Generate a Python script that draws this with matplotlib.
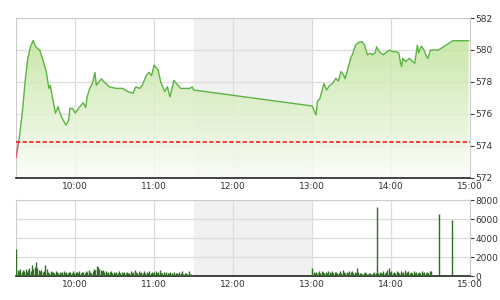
import numpy as np
import matplotlib
matplotlib.use("Agg")
from matplotlib import pyplot as plt
from matplotlib.colors import LinearSegmentedColormap

# price line
price_times = ["9:15", "9:17", "9:18", "9:20", "9:22", "9:24", "9:26", "9:28", "9:30", "9:33",
               "9:35", "9:38", "9:40", "9:41", "9:43", "9:45", "9:47", "9:48", "9:50", "9:53",
               "9:55", "9:56", "9:58", "10:00", "10:03", "10:06", "10:08", "10:09", "10:11", "10:13",
               "10:15", "10:16", "10:20", "10:22", "10:26", "10:31", "10:36", "10:40", "10:44", "10:46",
               "10:49", "10:51", "10:54", "10:56", "10:58", "11:00", "11:03", "11:05", "11:08", "11:10",
               "11:12", "11:15", "11:18", "11:20", "11:24", "11:27", "11:29", "11:30",
               "13:00", "13:03", "13:04", "13:06", "13:08", "13:09", "13:11", "13:13", "13:16", "13:18",
               "13:20", "13:22", "13:24", "13:25", "13:27", "13:29", "13:31", "13:33", "13:35", "13:38",
               "13:40", "13:42", "13:44", "13:46", "13:48", "13:49", "13:51", "13:54", "13:57", "13:59",
               "14:01", "14:04", "14:06", "14:07", "14:08", "14:09", "14:11", "14:14", "14:16", "14:18",
               "14:20", "14:21", "14:23", "14:25", "14:27", "14:28", "14:30", "14:34", "14:36", "14:47",
               "14:59"]
prices = [573.25, 574.27, 574.8, 576.25, 578.1, 579.5, 580.2, 580.6, 580.2, 580.0,
          579.5, 578.65, 577.6, 577.8, 576.9, 576.06, 576.46, 576.15, 575.75, 575.3,
          575.6, 576.35, 576.35, 576.06, 576.4, 576.7, 576.4, 577.06, 577.6, 577.9,
          578.6, 577.8, 578.2, 578.0, 577.7, 577.6, 577.6, 577.4, 577.3, 577.7,
          577.6, 577.8, 578.4, 578.6, 578.4, 579.06, 578.75, 578.0, 577.4, 577.7,
          577.06, 578.1, 577.8, 577.6, 577.6, 577.6, 577.7, 577.5,
          576.5, 575.94, 576.77, 576.98, 577.6, 577.9, 577.5, 577.75, 577.96, 578.23,
          578.06, 578.65, 578.44, 578.2, 578.75, 579.4, 579.8, 580.3, 580.46, 580.52,
          580.3, 579.7, 579.8, 579.7, 579.83, 580.2, 579.9, 579.7, 579.9, 580.0,
          579.9, 579.9, 579.8, 579.27, 578.96, 579.48, 579.27, 579.48, 579.3, 579.17,
          580.3, 579.83, 580.25, 580.0, 579.58, 579.48, 580.0, 580.0, 580.0, 580.58,
          580.58]
ref_price = 574.27

# per-minute volume, morning 9:15-11:29 and afternoon 13:00-14:59
vol_am = [2800,
          600, 500, 700, 400, 650, 500, 750, 450, 600, 800, 550,
          1150, 700, 900, 1450, 800,
          600, 500, 650, 400, 550, 1150,
          700, 450, 350, 500, 400, 450, 350, 500,
          400, 300, 450, 350, 400, 500, 300, 400, 350, 450,
          400, 350, 500, 300, 450, 400, 350, 500, 300, 400,
          450, 350, 500, 400, 600, 450, 350, 500, 700, 600,
          1050, 900, 700, 600, 500, 650, 400, 500, 350, 450,
          400, 500, 300, 450, 350, 400, 300, 500, 350, 400,
          300, 450, 350, 400, 300, 350, 500, 300, 400, 650,
          400, 350, 500, 300, 400, 350, 550, 300, 400, 350,
          500, 300, 450, 350, 400, 550, 300, 400, 600, 350,
          300, 450, 250, 400, 300, 350, 450, 300, 250, 400,
          300, 350, 250, 400, 300, 550, 250, 300, 350, 250, 500, 200, 250, 150]
vol_pm = [850,
          400, 300, 450, 350, 500, 300, 550, 400, 350, 450,
          300, 500, 400, 350, 550, 300, 400, 450, 300, 350,
          500, 350, 650, 400, 300, 450, 350, 500, 400, 550,
          300, 450, 350, 850, 400, 300, 350, 250, 300, 400,
          300, 250, 350, 300, 250, 300, 400, 350, 7300, 300,
          400, 350, 300, 500, 350, 400, 650, 850, 450, 500,
          350, 450, 300, 550, 400, 350, 500, 300, 450, 600,
          350, 400, 550, 300, 450, 350, 500, 300, 400, 350,
          450, 300, 500, 350, 400, 300, 450, 350, 500, 550,
          100, 80, 60, 80, 50,
          6500,
          60, 40, 50, 30, 40, 60, 50, 40, 30,
          5900,
          50, 100, 80, 120, 60, 150, 90, 100, 70, 120, 80, 150, 100]

hour_ticks = [10, 11, 12, 13, 14, 15]
hour_labels = ["10:00", "11:00", "12:00", "13:00", "14:00", "15:00"]


def to_hours(s):
    h, m = s.split(":")
    return int(h) + int(m) / 60.0


x = np.array([to_hours(t) for t in price_times])
y = np.array(prices)
vx = np.concatenate([9.25 + np.arange(len(vol_am)) / 60.0,
                     13.0 + np.arange(len(vol_pm)) / 60.0])
vy = np.array(vol_am + vol_pm)

grid_c = "#dcdcdc"
txt_c = "#333333"
fs = 6.5

fig = plt.figure(figsize=(5, 3), dpi=100)
ax = fig.add_axes([0.032, 0.4067, 0.908, 0.5333])
ax2 = fig.add_axes([0.032, 0.08, 0.908, 0.2533])

for a in (ax, ax2):
    a.set_xlim(9.25, 15)
    a.axvspan(11.5, 13, color="#f1f1f1", zorder=0, lw=0)
    a.set_xticks(hour_ticks)
    a.set_xticklabels(hour_labels)
    a.grid(True, color=grid_c, lw=0.9, zorder=1)
    a.yaxis.tick_right()
    a.tick_params(axis="y", length=3, width=0.8, color="#333333", labelsize=fs,
                  labelcolor=txt_c, pad=1)
    a.tick_params(axis="x", length=0, labelsize=fs, labelcolor=txt_c, pad=3)
    for s in ("top", "left", "right"):
        a.spines[s].set_color("#cccccc")
    a.spines["bottom"].set_color("#222222")
    a.spines["bottom"].set_linewidth(1.2)
    a.set_axisbelow(True)

# price chart
ax.set_ylim(572, 582)
ax.set_yticks([572, 574, 576, 578, 580, 582])
cmap = LinearSegmentedColormap.from_list("g", ["#fbfdf8", "#b8df8e"])
grad = np.linspace(0, 1, 256).reshape(-1, 1)
img = ax.imshow(grad, extent=[9.25, 15, 572, 582], origin="lower", aspect="auto",
                cmap=cmap, alpha=0.85, zorder=2)
poly = ax.fill_between(x, y, 572, color="none", lw=0)
img.set_clip_path(poly.get_paths()[0], transform=ax.transData)
ax.plot(x[1:], y[1:], color="#5cb443", lw=1.0, zorder=4)
ax.plot(x[:2], y[:2], color="#e0506a", lw=1.0, zorder=4)
ax.axhline(ref_price, color="#ff1a1a", lw=1.2, ls=(0, (2.5, 1.5)), zorder=5)

# volume chart
ax2.set_ylim(0, 8000)
ax2.set_yticks([0, 2000, 4000, 6000, 8000])
ax2.vlines(vx + 0.004, 0, vy, color="#2f6e22", lw=1.0, zorder=3)

fig.savefig("out.png", dpi=100)
